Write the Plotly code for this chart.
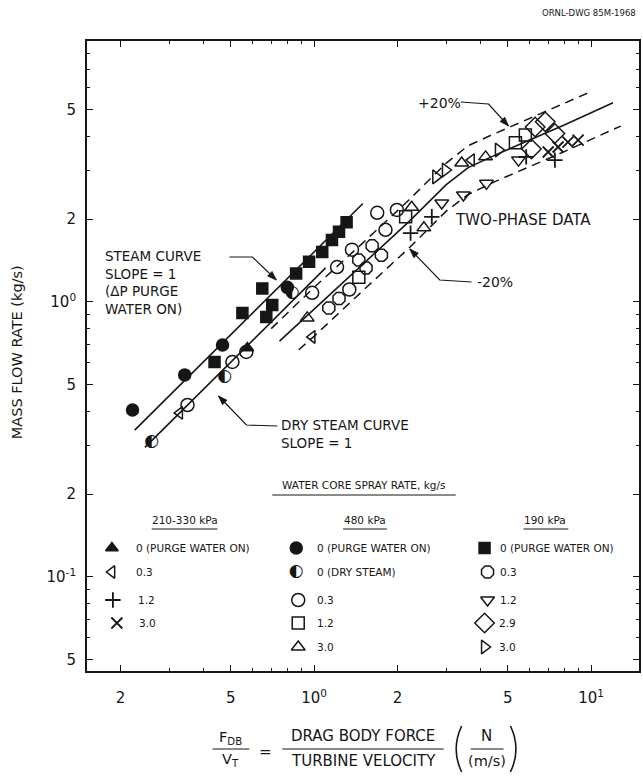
import math
import plotly.graph_objects as go

FONT = "DejaVu Sans"
INK = "#161616"

# ---------------- axis ticks ----------------
x_tickvals = [0.2, 0.5, 1, 2, 5, 10]
x_ticktext = ["2", "5", "10<sup>0</sup>", "2", "5", "10<sup>1</sup>"]
x_minor = [0.3, 0.4, 0.6, 0.7, 0.8, 0.9, 3, 4, 6, 7, 8, 9]
y_tickvals = [0.05, 0.1, 0.2, 0.5, 1, 2, 5]
y_ticktext = ["5", "10<sup>-1</sup>", "2", "5", "10<sup>0</sup>", "2", "5"]
y_minor = [0.06, 0.07, 0.08, 0.09, 0.3, 0.4, 0.6, 0.7, 0.8, 0.9, 3, 4, 6, 7, 8]

# ---------------- curves ----------------
steam_x = [0.225, 1.5]
steam_y = [0.342, 2.28]
dry_x = [0.245, 1.1]
dry_y = [0.296, 1.33]
center_x = [0.75, 1.0, 1.5, 2.2, 3.0, 3.6, 4.5, 6.0, 8.0, 12.0]
center_y = [0.72, 0.94, 1.37, 1.96, 2.67, 3.08, 3.42, 3.88, 4.40, 5.30]
upper_x = [0.70, 1.0, 1.5, 2.2, 3.0, 3.6, 4.5, 6.0, 8.0, 10.0]
upper_y = [0.80, 1.13, 1.64, 2.35, 3.20, 3.70, 4.10, 4.66, 5.28, 5.82]
lower_x = [0.88, 1.0, 1.5, 2.2, 3.0, 3.6, 4.5, 6.0, 8.0, 12.0, 12.8]
lower_y = [0.67, 0.75, 1.10, 1.57, 2.14, 2.46, 2.74, 3.10, 3.52, 4.24, 4.36]

# ---------------- data points ----------------
# 210-330 kPa
tri_purge_x = [0.574]
tri_purge_y = [0.68]
left03_x = [0.327, 0.984, 3.70]
left03_y = [0.395, 0.746, 3.28]
plus12_x = [2.23, 2.66, 5.83, 7.4]
plus12_y = [1.78, 2.04, 3.37, 3.28]
x30_x = [7.0, 7.6, 8.25, 8.98]
x30_y = [3.51, 3.66, 3.81, 3.88]
# 480 kPa
dot_purge_x = [0.221, 0.341, 0.467, 0.80]
dot_purge_y = [0.405, 0.543, 0.698, 1.13]
dry_pts_x = [0.259, 0.475, 0.834]
dry_pts_y = [0.310, 0.534, 1.08]
circ03_x = [0.349, 0.507, 0.569, 0.984, 1.21, 1.34, 1.37, 1.69, 1.81, 1.99]
circ03_y = [0.422, 0.605, 0.658, 1.08, 1.34, 1.11, 1.55, 2.11, 1.83, 2.16]
sq12_x = [1.45, 2.14, 5.33, 5.79]
sq12_y = [1.23, 2.04, 3.79, 4.05]
tri30_x = [0.944, 2.25, 2.49, 3.41, 4.16]
tri30_y = [0.875, 2.21, 1.86, 3.20, 3.37]
# 190 kPa
sq_purge_x = [0.437, 0.551, 0.650, 0.672, 0.706, 0.861, 0.959, 1.07, 1.16, 1.23, 1.31]
sq_purge_y = [0.605, 0.912, 1.12, 0.882, 0.975, 1.27, 1.40, 1.52, 1.68, 1.80, 1.95]
oct03_x = [1.13, 1.23, 1.45, 1.54, 1.62, 1.75]
oct03_y = [0.951, 1.03, 1.42, 1.33, 1.60, 1.48]
tdown12_x = [2.89, 3.46, 4.19, 5.47]
tdown12_y = [2.29, 2.45, 2.70, 3.28]
diam29_x = [6.09, 6.28, 6.83, 7.4]
diam29_y = [3.60, 4.33, 4.52, 4.10]
tright30_x = [2.75, 2.98, 4.63]
tright30_y = [2.85, 3.02, 3.57]

# ---------------- geometry helpers (layout only) ----------------
L, R, T, B = 87, 641, 41, 671
W, H = 643, 779


def px(x):
    return (x - L) / (R - L)


def py(y):
    return (B - y) / (B - T)


def txt(s, x, y, size, xanchor="left", yanchor="middle", **kw):
    return dict(text=s, x=px(x), y=py(y), xref="paper", yref="paper",
                showarrow=False, xanchor=xanchor, yanchor=yanchor,
                font=dict(size=size, family=FONT, color=INK), **kw)


def seg(p0, p1, width=1.2):
    return dict(type="line", xref="paper", yref="paper",
                x0=px(p0[0]), y0=py(p0[1]), x1=px(p1[0]), y1=py(p1[1]),
                line=dict(color=INK, width=width))


def leader(points, width=1.2, head=9, half=3.2):
    """Polyline ending in a filled arrowhead at the last point."""
    d = "M " + " L ".join(f"{px(a):.5f},{py(b):.5f}" for a, b in points)
    out = [dict(type="path", path=d, xref="paper", yref="paper",
                line=dict(color=INK, width=width))]
    (x0, y0), (x1, y1) = points[-2], points[-1]
    dx, dy = x1 - x0, y1 - y0
    n = math.hypot(dx, dy)
    ux, uy = dx / n, dy / n
    bx, by = x1 - ux * head, y1 - uy * head
    p1 = (bx - uy * half, by + ux * half)
    p2 = (bx + uy * half, by - ux * half)
    tri = (f"M {px(x1):.5f},{py(y1):.5f} L {px(p1[0]):.5f},{py(p1[1]):.5f} "
           f"L {px(p2[0]):.5f},{py(p2[1]):.5f} Z")
    out.append(dict(type="path", path=tri, xref="paper", yref="paper",
                    fillcolor=INK, line=dict(color=INK, width=0.8)))
    return out


fig = go.Figure()


def line(x, y, dash=None, width=1.6):
    fig.add_trace(go.Scatter(x=x, y=y, mode="lines", showlegend=False,
                             hoverinfo="skip",
                             line=dict(color=INK, width=width, dash=dash)))


def pts(x, y, symbol, size=10, lw=1.5, xa="x", ya="y"):
    fig.add_trace(go.Scatter(x=x, y=y, mode="markers", showlegend=False,
                             hoverinfo="skip", xaxis=xa, yaxis=ya,
                             marker=dict(symbol=symbol, size=size, color=INK,
                                         line=dict(color=INK, width=lw))))


def halfdot(x, y, size=17, xa="x", ya="y"):
    fig.add_trace(go.Scatter(x=x, y=y, mode="text", text=["◐"] * len(x),
                             showlegend=False, hoverinfo="skip", xaxis=xa, yaxis=ya,
                             textfont=dict(size=size, family=FONT, color=INK)))


# curves
line(steam_x, steam_y)
line(dry_x, dry_y)
line(center_x, center_y)
line(upper_x, upper_y, dash="9px,6px", width=1.5)
line(lower_x, lower_y, dash="9px,6px", width=1.5)

# data
pts(tri_purge_x, tri_purge_y, "triangle-up", 11)
pts(left03_x, left03_y, "triangle-left-open", 11)
pts(plus12_x, plus12_y, "cross-thin-open", 11, lw=1.8)
pts(x30_x, x30_y, "x-thin-open", 11, lw=1.8)
pts(dot_purge_x, dot_purge_y, "circle", 12)
halfdot(dry_pts_x, dry_pts_y)
pts(circ03_x, circ03_y, "circle-open", 13)
pts(sq12_x, sq12_y, "square-open", 12)
pts(tri30_x, tri30_y, "triangle-up-open", 12)
pts(sq_purge_x, sq_purge_y, "square", 11)
pts(oct03_x, oct03_y, "octagon-open", 13)
pts(tdown12_x, tdown12_y, "triangle-down-open", 12)
pts(diam29_x, diam29_y, "diamond-open", 15)
pts(tright30_x, tright30_y, "triangle-right-open", 12)

# legend key glyphs (pixel-positioned overlay axes)
c1, c2, c3 = 112, 297, 486
rows = [548, 572, 600, 623, 647]
pts([c1], [rows[0]], "triangle-up", 11, xa="x2", ya="y2")
pts([c1], [rows[1]], "triangle-left-open", 11, xa="x2", ya="y2")
pts([c1 + 1], [rows[2]], "cross-thin-open", 11, lw=1.8, xa="x2", ya="y2")
pts([c1 + 5], [rows[3]], "x-thin-open", 11, lw=1.8, xa="x2", ya="y2")
pts([c2], [rows[0]], "circle", 12, xa="x2", ya="y2")
halfdot([c2], [rows[1]], xa="x2", ya="y2")
pts([c2 + 2], [rows[2]], "circle-open", 13, xa="x2", ya="y2")
pts([c2 + 2], [rows[3]], "square-open", 12, xa="x2", ya="y2")
pts([c2 + 2], [rows[4]], "triangle-up-open", 12, xa="x2", ya="y2")
pts([c3], [rows[0]], "square", 11, xa="x2", ya="y2")
pts([c3 + 3], [rows[1]], "octagon-open", 13, xa="x2", ya="y2")
pts([c3 + 3], [rows[2]], "triangle-down-open", 12, xa="x2", ya="y2")
pts([c3], [rows[3]], "diamond-open", 15, xa="x2", ya="y2")
pts([c3], [rows[4]], "triangle-right-open", 12, xa="x2", ya="y2")

LS = 10.5
ann = [
    # legend texts
    txt("WATER CORE SPRAY RATE, kg/s", 365, 485, LS, xanchor="center"),
    txt("210-330 kPa", 185, 520, LS, xanchor="center"),
    txt("480 kPa", 366, 520, LS, xanchor="center"),
    txt("190 kPa", 547, 520, LS, xanchor="center"),
    txt("0 (PURGE WATER ON)", 134, rows[0], LS),
    txt("0.3", 134, rows[1], LS),
    txt("1.2", 136, rows[2], LS),
    txt("3.0", 137, rows[3], LS),
    txt("0 (PURGE WATER ON)", 316, rows[0], LS),
    txt("0 (DRY STEAM)", 316, rows[1], LS),
    txt("0.3", 316, rows[2], LS),
    txt("1.2", 316, rows[3], LS),
    txt("3.0", 316, rows[4], LS),
    txt("0 (PURGE WATER ON)", 499, rows[0], LS),
    txt("0.3", 499, rows[1], LS),
    txt("1.2", 499, rows[2], LS),
    txt("2.9", 498, rows[3], LS),
    txt("3.0", 498, rows[4], LS),
    # curve labels
    txt("STEAM CURVE<br>SLOPE = 1<br>(ΔP PURGE<br>WATER ON)", 103, 282, 13.5, align="left"),
    txt("DRY STEAM CURVE<br>SLOPE = 1", 280, 434, 13.5, align="left"),
    txt("TWO-PHASE DATA", 454, 220, 15),
    txt("+20%", 417, 103, 14),
    txt("-20%", 476, 282, 14),
    # axis titles
    txt("MASS FLOW RATE (kg/s)", 17, 352, 14.5, xanchor="center", textangle=-90),
    txt("F<sub>DB</sub>", 231, 738, 14.5, xanchor="center"),
    txt("V<sub>T</sub>", 231, 760, 14.5, xanchor="center"),
    txt("=", 266, 752, 15, xanchor="center"),
    txt("DRAG BODY FORCE", 364, 736, 15, xanchor="center"),
    txt("TURBINE VELOCITY", 364, 761, 15, xanchor="center"),
    txt("N", 488, 736, 15, xanchor="center"),
    txt("(m/s)", 488, 761, 14.5, xanchor="center"),
    txt("ORNL-DWG 85M-1968", 640, 13, 8.5, xanchor="right"),
]

shapes = [
    seg((273, 495), (457, 495), 1.0),
    seg((152, 529), (218, 529), 1.0),
    seg((344, 529), (388, 529), 1.0),
    seg((525, 529), (570, 529), 1.0),
    seg((213, 749), (250, 749), 1.2),
    seg((283, 749), (445, 749), 1.2),
    seg((472, 749), (505, 749), 1.2),
    dict(type="path", xref="paper", yref="paper",
         path=f"M {px(463):.5f},{py(726):.5f} Q {px(452):.5f},{py(749):.5f} {px(463):.5f},{py(772):.5f}",
         line=dict(color=INK, width=1.6)),
    dict(type="path", xref="paper", yref="paper",
         path=f"M {px(512):.5f},{py(726):.5f} Q {px(523):.5f},{py(749):.5f} {px(512):.5f},{py(772):.5f}",
         line=dict(color=INK, width=1.6)),
]
shapes += leader([(230, 257), (253, 257), (277, 280)])
shapes += leader([(278, 426), (247, 425), (219, 396)])
shapes += leader([(462, 102), (490, 104), (510, 126)])
shapes += leader([(473, 282), (441, 280), (411, 249)])

axis_common = dict(
    type="log", tickmode="array", ticks="inside", ticklen=6, tickwidth=1.1,
    tickcolor=INK, showline=True, linecolor=INK, linewidth=1.8,
    mirror="allticks", showgrid=False, zeroline=False,
    tickfont=dict(size=15, family=FONT, color=INK),
)

fig.update_layout(
    width=W, height=H,
    margin=dict(l=L, r=W - R, t=T, b=H - B),
    paper_bgcolor="white", plot_bgcolor="white",
    showlegend=False,
    xaxis=dict(range=[-0.820, 1.173], tickvals=x_tickvals, ticktext=x_ticktext,
               ticklabelstandoff=12,
               minor=dict(tickmode="array", tickvals=x_minor, ticks="inside",
                          ticklen=3, tickcolor=INK, showgrid=False),
               **axis_common),
    yaxis=dict(range=[-1.342, 0.949], tickvals=y_tickvals, ticktext=y_ticktext,
               ticklabelstandoff=6,
               minor=dict(tickmode="array", tickvals=y_minor, ticks="inside",
                          ticklen=3, tickcolor=INK, showgrid=False),
               **axis_common),
    xaxis2=dict(overlaying="x", range=[L, R], visible=False, showgrid=False,
                zeroline=False, fixedrange=True),
    yaxis2=dict(overlaying="y", range=[B, T], visible=False, showgrid=False,
                zeroline=False, fixedrange=True),
    annotations=ann,
    shapes=shapes,
)

fig.write_html(
    "out.html",
    config={"displayModeBar": False},
    post_script="document.body.style.margin='0';document.body.style.overflow='hidden';",
)
